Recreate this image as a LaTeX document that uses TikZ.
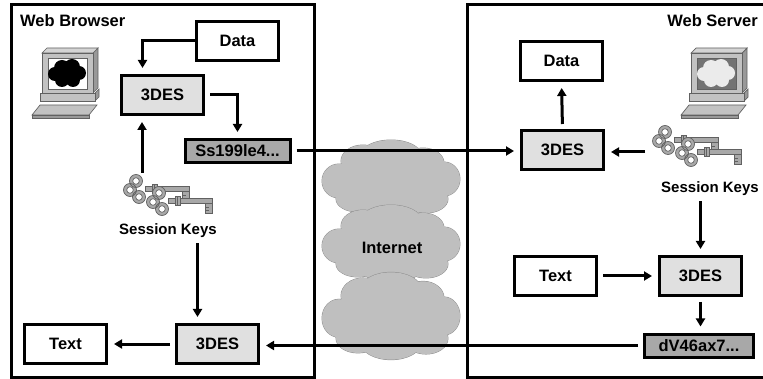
\documentclass[tikz,border=0pt]{standalone}
\usepackage{fontspec}
\setmainfont{Liberation Sans}
\usetikzlibrary{arrows.meta}

\definecolor{boxlight}{gray}{0.88}
\definecolor{boxdark}{gray}{0.66}
\definecolor{cloudgray}{gray}{0.75}
\definecolor{cloudedge}{gray}{0.55}
\definecolor{devgray}{gray}{0.76}
\definecolor{devside}{gray}{0.6}
\definecolor{devedge}{gray}{0.38}
\definecolor{keygray}{gray}{0.66}
\definecolor{keyedge}{gray}{0.38}

\tikzset{
  pics/computer/.style 2 args={code={
    \filldraw[fill=devside, draw=devedge, line width=0.7pt] (51,0) -- (56,-5) -- (56,35) -- (51,40) -- cycle;
    \filldraw[fill=devgray!70!white, draw=devedge, line width=0.7pt] (0,0) -- (5,-5) -- (56,-5) -- (51,0) -- cycle;
    \filldraw[fill=devgray, draw=devedge, line width=0.7pt] (0,0) rectangle (51,40);
    \filldraw[fill=#1, draw=devedge, line width=0.7pt] (6,5) rectangle (45,36);
    \fill[#2] (13,21) circle (7pt) (20,15) circle (8pt) (30,14) circle (8pt)
              (37,20) circle (7pt) (31,27) circle (7pt) (20,27) circle (7pt) (25,21) circle (8pt);
    \filldraw[fill=devside, draw=devedge, line width=0.7pt] (53,40) -- (57,36) -- (57,44) -- (53,48) -- cycle;
    \filldraw[fill=devgray, draw=devedge, line width=0.7pt] (-2,40) rectangle (53,48);
    \filldraw[fill=devside, draw=devedge, line width=0.7pt] (-10,62) -- (47,62) -- (47,65) -- (-10,65) -- cycle;
    \filldraw[fill=devgray, draw=devedge, line width=0.7pt] (-10,62) -- (47,62) -- (55,52) -- (-2,52) -- cycle;
  }},
  pics/keys/.style={code={
    \foreach \dx/\dy in {0/0, 23/12} {
      \begin{scope}[shift={(\dx,\dy)}, fill=keygray, draw=keyedge, line width=0.7pt]
        \filldraw (9,-2.5) rectangle (53,2.5);
        \filldraw (46,2.5) rectangle (53,12);
        \draw (46,6) -- (50,6) (46,9) -- (50,9);
        \filldraw (16,-5) rectangle (21,4);
        \draw (18.5,-5) -- (18.5,4);
        \filldraw (0,-8) circle (6.5pt) (-6,1) circle (6.5pt) (3,8) circle (6.5pt);
        \filldraw[fill=white] (0,-8) circle (3.3pt) (-6,1) circle (3.3pt) (3,8) circle (3.3pt);
      \end{scope}
    }
  }},
  pics/puff/.style={code={
    \def\puffpath{(0,3) ellipse (55 and 28) (-52,2) ellipse (17 and 17)
      (-28,-18) ellipse (22 and 16) (0,-24) ellipse (30 and 15) (32,-16) ellipse (21 and 15)
      (53,0) ellipse (16 and 17) (35,20) ellipse (22 and 14) (0,24) ellipse (30 and 15)
      (-33,20) ellipse (22 and 13)}
    \filldraw[fill=cloudgray, draw=cloudedge, line width=0.9pt] \puffpath;
    \fill[cloudgray] \puffpath;
  }},
}

\begin{document}
\begin{tikzpicture}[x=1pt, y=-1pt,
    every node/.style={font=\fontsize{16.5}{18}\selectfont\bfseries},
    box/.style={draw, line width=3pt, minimum width=82pt, minimum height=39pt, inner sep=0pt, fill=white},
    encbox/.style={box, fill=boxlight},
    cipherbox/.style={box, fill=boxdark, minimum width=105pt, minimum height=23pt},
    flow/.style={line width=3pt, -{Triangle[length=8pt,width=9pt]}, shorten <=5pt, shorten >=6pt},
    keylabel/.style={font=\fontsize{15}{17}\selectfont\bfseries, inner sep=0pt}]
  \useasboundingbox (0,0) rectangle (763,379);
  \clip (0,0) rectangle (763,379);

  \pic at (391,179) {puff};
  \pic at (391,244) {puff};
  \pic[yscale=1.12] at (391,316) {puff};
  \node[inner sep=0pt] (inet) at (392,248) {Internet};

  \draw[line width=3pt] (11,5) rectangle (314,377);
  \draw[line width=3pt] (775,5) -- (467,5) -- (467,377) -- (775,377);
  \node[anchor=west, inner sep=0pt] (browser) at (20,21) {Web Browser};
  \node[anchor=east, inner sep=0pt] (server) at (758,21) {Web Server};

  \pic at (42,53) {computer={white}{black}};
  \pic at (691,53) {computer={black!55}{white!92!black}};
  \pic at (136,189) {keys};
  \pic at (665,140) {keys};

  \node[box] (bdata) at (237.5,41) {Data};
  \node[encbox] (benc) at (162.5,95) {3DES};
  \node[cipherbox] (bcipher) at (237.5,151) {Ss199le4...};
  \node[keylabel] (bkeys) at (168,231) {Session Keys};
  \node[encbox] (bdec) at (217.5,344) {3DES};
  \node[box] (btext) at (65.5,344) {Text};
  \coordinate (bkeytop) at (142,173);

  \node[box] (sdata) at (561.5,61) {Data};
  \node[encbox] (sdec) at (562.5,150) {3DES};
  \node[keylabel] (skeys) at (710,189) {Session Keys};
  \node[box] (stext) at (555.5,276) {Text};
  \node[encbox] (senc) at (700.5,276) {3DES};
  \node[cipherbox, minimum width=109pt] (scipher) at (699,345.5) {dV46ax7...};
  \coordinate (skeyleft) at (645,152);

  \draw[flow, shorten <=0pt] (bdata.west) -| ([xshift=-20pt]benc.north);
  \draw[flow] (benc.east) -| (bcipher.north);
  \draw[flow] (bcipher.east) -- (bcipher.east -| sdec.west);
  \draw[flow, shorten <=0pt] (bkeytop) -- (bkeytop |- benc.south);
  \draw[flow] ([xshift=-20pt]bdec.north |- bkeys.south) -- ([xshift=-20pt]bdec.north);
  \draw[flow] (bdec.west) -- (btext.east);
  \draw[flow] (scipher.west) -- (scipher.west -| bdec.east);

  \draw[flow] (sdec.north) -- (sdata.south);
  \draw[flow, shorten <=0pt] (skeyleft) -- (skeyleft -| sdec.east);
  \draw[flow] (senc.north |- skeys.south) -- (senc.north);
  \draw[flow] (stext.east) -- (senc.west);
  \draw[flow] (senc.south) -- (senc.south |- scipher.north);
\end{tikzpicture}
\end{document}
